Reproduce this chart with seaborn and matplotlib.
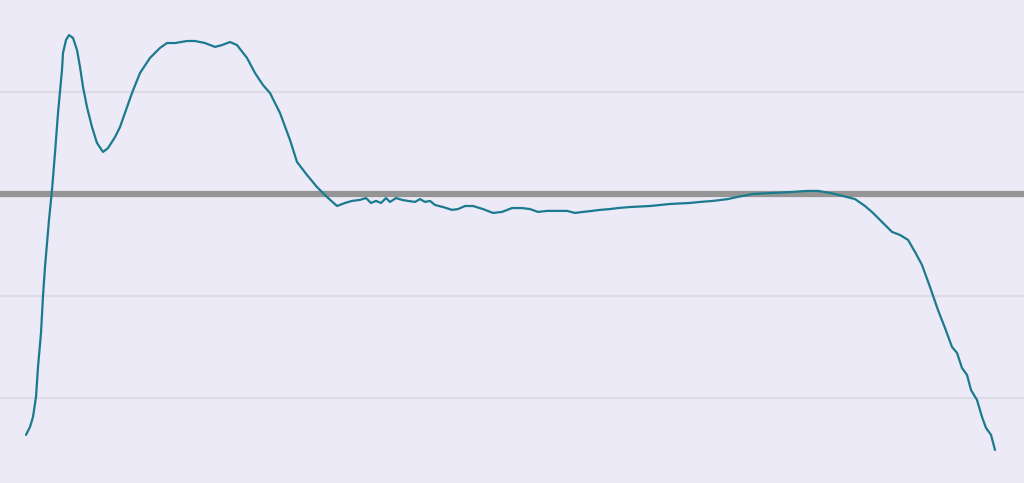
import matplotlib
matplotlib.use("Agg")
import matplotlib.pyplot as plt
import seaborn as sns
import pandas as pd

step = [0, 4, 7, 10, 12, 15, 17, 19, 21, 23, 26, 29, 32, 34, 36, 37, 40, 43, 47, 51,
        54, 57, 61, 66, 71, 77, 82, 89, 94,
        106, 114, 124, 134, 141, 149, 161, 169, 179, 189, 196, 204, 211, 221, 229, 237, 244,
        254, 264, 271, 281, 291, 301, 311, 319, 326, 334, 340, 345, 350, 355, 360, 364, 370, 376, 382, 389,
        394, 399, 404, 409, 417, 426, 432, 439, 447, 457, 467, 476, 486, 496, 504, 512, 521, 531, 541, 549,
        557, 566, 574, 584, 592, 604, 624, 644, 664, 674, 687, 702, 711, 727, 747, 767, 781, 792, 804, 817,
        829, 839, 847, 856, 866, 874, 882, 889, 896, 904, 912, 919, 926, 931, 936, 941, 945, 951, 956, 960,
        965, 969]
value = [-18.1, -14.2, -9.3, 0.5, 15.2, 31.9, 50.0, 64.2, 76.0, 87.3, 102.0, 120.1, 139.7, 150.0, 160.8, 169.1, 175.5, 177.9, 176.5, 170.6,
         162.3, 152.5, 142.6, 132.8, 125.0, 120.6, 122.5, 127.9, 132.8,
         149.5, 159.3, 166.7, 171.6, 174.0, 174.0, 175.0, 175.0, 174.0, 172.1, 173.0, 174.5, 173.0, 166.7, 159.3, 153.4, 149.5,
         139.7, 126.5, 115.7, 109.3, 103.4, 98.5, 94.1, 95.6, 96.6, 97.1, 98.0, 95.6, 96.6, 95.6, 98.0, 96.1, 98.0, 97.1, 96.6, 96.1,
         97.5, 96.1, 96.6, 94.6, 93.6, 92.2, 92.6, 94.1, 94.1, 92.6, 90.7, 91.2, 93.1, 93.1, 92.6, 91.2, 91.7, 91.7, 91.7, 90.7,
         91.2, 91.7, 92.2, 92.6, 93.1, 93.6, 94.1, 95.1, 95.6, 96.1, 96.6, 97.5, 98.5, 100.0, 100.5, 101.0, 101.5, 101.5, 100.5, 99.0,
         97.5, 94.1, 90.7, 86.3, 81.4, 79.9, 77.5, 71.6, 65.2, 54.4, 43.1, 34.3, 25.0, 22.1, 14.7, 11.3, 3.9, -1.0, -9.3, -14.7,
         -18.1, -25.5]
reference = 100
grid_levels = [0, 50, 150]

df = pd.DataFrame({"step": step, "value": value})

sns.set_theme(style="darkgrid")
fig = plt.figure(figsize=(10.24, 4.83), dpi=100)
fig.patch.set_facecolor("#EBEAF6")
ax = fig.add_axes([0, 0, 1, 1])
ax.set_facecolor("#EBEAF6")

for g in grid_levels:
    ax.axhline(g, color="#DCDBE6", linewidth=1.6, zorder=0)
ax.axhline(reference, color="#959595", linewidth=4.5, zorder=1)

sns.lineplot(data=df, x="step", y="value", ax=ax, color="#1B7A8E", linewidth=1.6, zorder=2)

ax.set_xlim(-26, 998)
ax.set_ylim(-41.7, 195.1)
ax.grid(False)
ax.set_xticks([])
ax.set_yticks([])
ax.set_xlabel("")
ax.set_ylabel("")
for s in ax.spines.values():
    s.set_visible(False)

fig.savefig("out.png", dpi=100, facecolor=fig.get_facecolor())
